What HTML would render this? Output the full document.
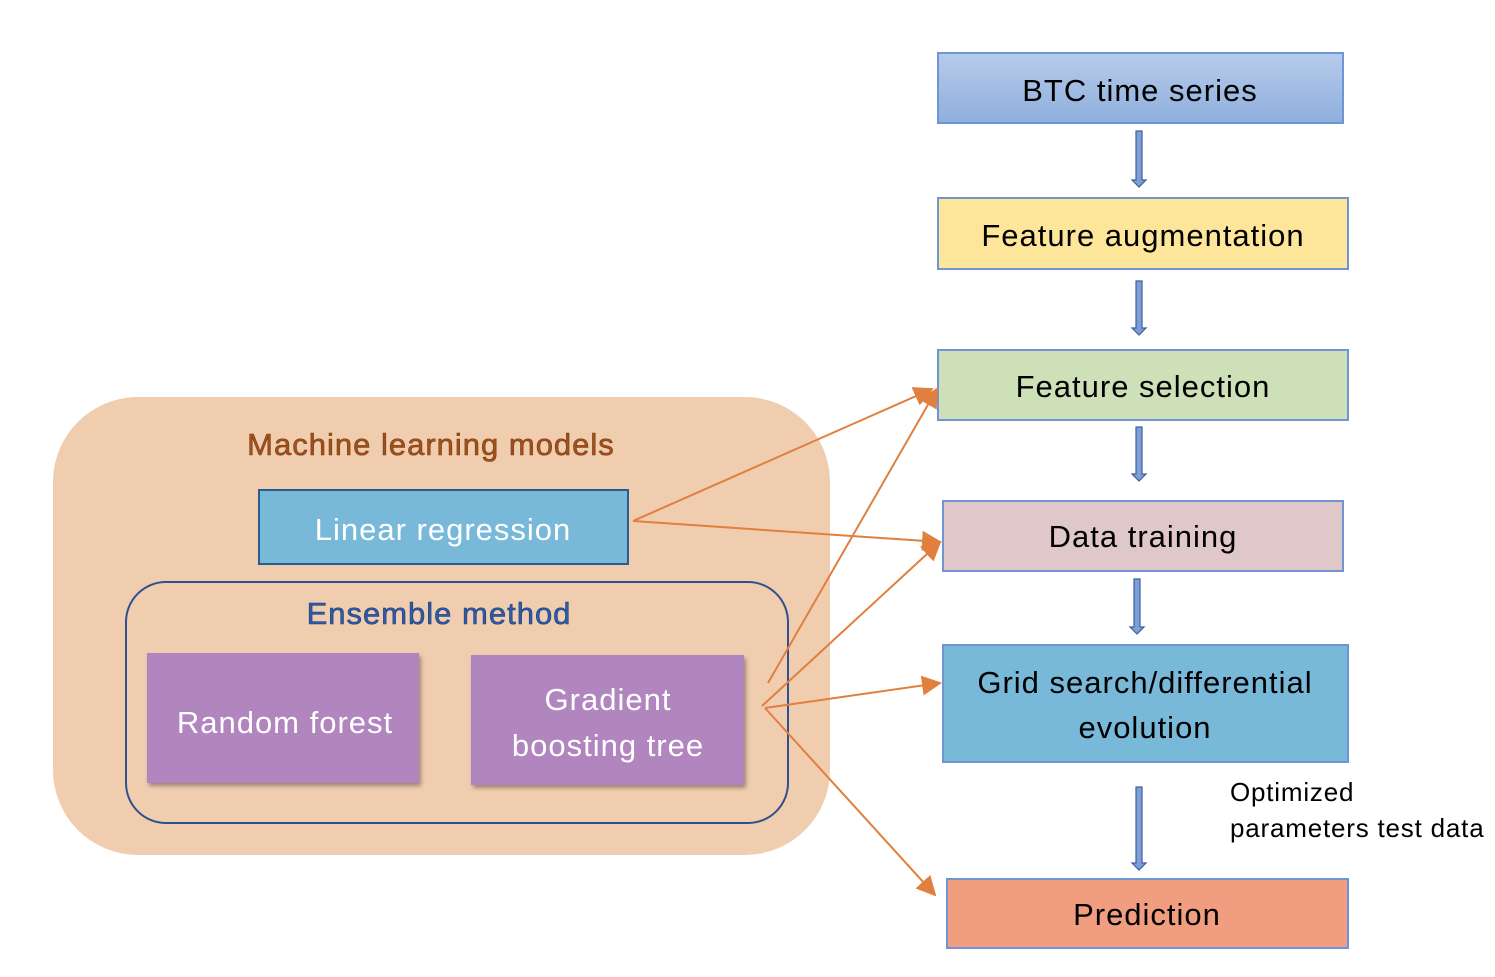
<!DOCTYPE html>
<html><head><meta charset="utf-8"><style>
html,body{margin:0;padding:0;background:#fff;}
svg{display:block;}
text{font-family:"Liberation Sans",sans-serif;}
.t{font-size:31px;letter-spacing:1px;}
</style></head><body>
<svg width="1495" height="977" viewBox="0 0 1495 977" xmlns="http://www.w3.org/2000/svg">
<defs>
<linearGradient id="gb" x1="0" y1="0" x2="0" y2="1"><stop offset="0" stop-color="#b6cbea"/><stop offset="1" stop-color="#8fafdd"/></linearGradient>
<filter id="sh" x="-10%" y="-10%" width="130%" height="130%"><feDropShadow dx="2" dy="3" stdDeviation="2" flood-color="#000" flood-opacity="0.35"/></filter>
<marker id="ah2" viewBox="0 0 10 10" refX="9" refY="5" markerWidth="20" markerHeight="20" markerUnits="userSpaceOnUse" orient="auto"><path d="M0,0 L10,5 L0,10 z" fill="#e07f3e"/></marker>
</defs>
<rect x="53" y="397" width="777" height="458" rx="85" fill="#f1cdb0"/>
<text x="431" y="455" text-anchor="middle" class="t" font-size="32" fill="#a0521c" stroke="#7a3a10" stroke-width="0.6">Machine learning models</text>
<rect x="259" y="490" width="369" height="74" fill="#78b8d8" stroke="#2e5b8e" stroke-width="2"/>
<text x="443" y="540" text-anchor="middle" class="t" fill="#fff">Linear regression</text>
<rect x="126" y="582" width="662" height="241" rx="40" fill="none" stroke="#2f4f8f" stroke-width="2"/>
<text x="439" y="624" text-anchor="middle" class="t" fill="#2f5aa8" stroke="#1f3f7a" stroke-width="0.6">Ensemble method</text>
<rect x="147" y="653" width="272" height="130" fill="#b186bf" filter="url(#sh)"/>
<text x="285" y="733" text-anchor="middle" class="t" fill="#fff">Random forest</text>
<rect x="471" y="655" width="273" height="130" fill="#b186bf" filter="url(#sh)"/>
<text x="608" y="710" text-anchor="middle" class="t" fill="#fff">Gradient</text>
<text x="608" y="756" text-anchor="middle" class="t" fill="#fff">boosting tree</text>
<rect x="938" y="53" width="405" height="70" fill="url(#gb)" stroke="#6f95d4" stroke-width="2"/>
<text x="1140" y="101" text-anchor="middle" class="t" fill="#000">BTC time series</text>
<rect x="938" y="198" width="410" height="71" fill="#fde69a" stroke="#6f95d4" stroke-width="2"/>
<text x="1143" y="246" text-anchor="middle" class="t" fill="#000">Feature augmentation</text>
<rect x="938" y="350" width="410" height="70" fill="#cde0b8" stroke="#6f95d4" stroke-width="2"/>
<text x="1143" y="397" text-anchor="middle" class="t" fill="#000">Feature selection</text>
<rect x="943" y="501" width="400" height="70" fill="#e0c8ca" stroke="#6f95d4" stroke-width="2"/>
<text x="1143" y="547" text-anchor="middle" class="t" fill="#000">Data training</text>
<rect x="943" y="645" width="405" height="117" fill="#78b8d8" stroke="#6f95d4" stroke-width="2"/>
<text x="1145" y="693" text-anchor="middle" class="t" fill="#000">Grid search/differential</text>
<text x="1145" y="738" text-anchor="middle" class="t" fill="#000">evolution</text>
<rect x="947" y="879" width="401" height="69" fill="#f19d80" stroke="#6f95d4" stroke-width="2"/>
<text x="1147" y="925" text-anchor="middle" class="t" fill="#000">Prediction</text>
<text x="1230" y="801" font-size="26" letter-spacing="0.8" fill="#000">Optimized</text>
<text x="1230" y="837" font-size="26" letter-spacing="0.8" fill="#000">parameters test data</text>
<g fill="#7e9ed6" stroke="#3d5fa0" stroke-width="1.2">
<path d="M1136,131 h6 v49 h4 l-7,7 l-7,-7 h4 z"/>
<path d="M1136,281 h6 v47 h4 l-7,7 l-7,-7 h4 z"/>
<path d="M1136,427 h6 v47 h4 l-7,7 l-7,-7 h4 z"/>
<path d="M1134,579 h6 v48 h4 l-7,7 l-7,-7 h4 z"/>
<path d="M1136,787 h6 v76 h4 l-7,7 l-7,-7 h4 z"/>
</g>
<g stroke="#e07f3e" stroke-width="2" fill="none">
<line x1="633" y1="521" x2="932" y2="389" marker-end="url(#ah2)"/>
<line x1="633" y1="521" x2="940" y2="542" marker-end="url(#ah2)"/>
<line x1="768" y1="683" x2="937" y2="389" marker-end="url(#ah2)"/>
<line x1="762" y1="706" x2="940" y2="542" marker-end="url(#ah2)"/>
<line x1="765" y1="708" x2="940" y2="683" marker-end="url(#ah2)"/>
<line x1="765" y1="708" x2="935" y2="895" marker-end="url(#ah2)"/>
</g>
</svg>
</body></html>
